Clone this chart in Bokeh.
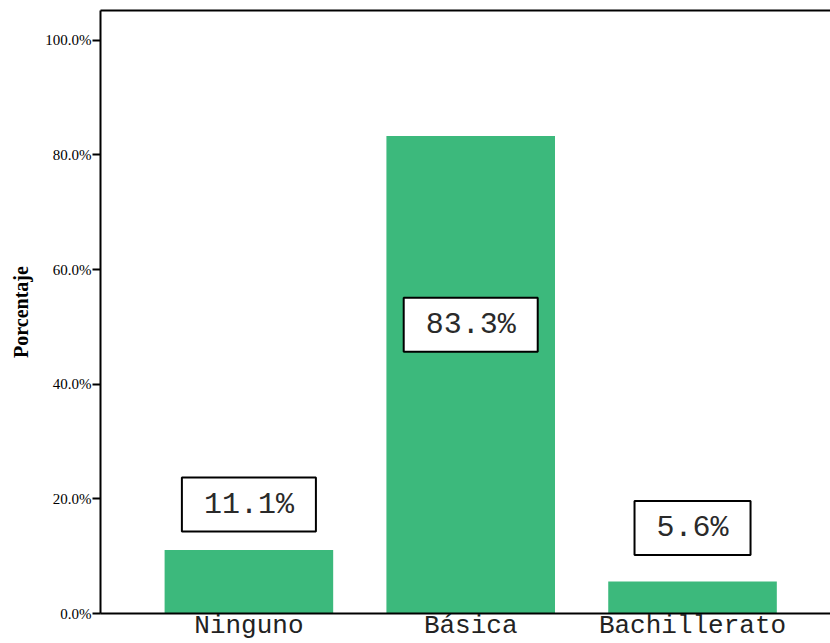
from bokeh.plotting import figure
from bokeh.models import Range1d, FixedTicker, PrintfTickFormatter, LinearAxis, ColumnDataSource
from bokeh.core.properties import value
from bokeh.embed import file_html
from bokeh.resources import INLINE

categories = ["Ninguno", "Básica", "Bachillerato"]
percentages = [11.1, 83.3, 5.6]
label_texts = ["11.1%", "83.3%", "5.6%"]
y_ticks = [0, 20, 40, 60, 80, 100]

xs = [i + 1 for i in range(len(categories))]
# label box centres (layout)
label_y = [v + 8.0 if v < 50 else v * 0.605 for v in percentages]
label_y[0] = percentages[0] + 7.9
label_y[2] = percentages[2] + 9.3

src = ColumnDataSource(dict(x=xs, top=percentages, ly=label_y, txt=label_texts))

p = figure(width=830, height=643, output_backend="svg", toolbar_location=None,
           x_range=Range1d(0.331, 3.622), y_range=Range1d(0, 105.2),
           min_border_left=100, min_border_right=0, min_border_top=10, min_border_bottom=30)
p.outline_line_color = None
p.xgrid.visible = False
p.ygrid.visible = False

p.vbar(x="x", top="top", width=0.76, source=src, fill_color="#3cb97c", line_color=None)

p.text(x="x", y="ly", text="txt", source=src, text_align="center", text_baseline="middle",
       text_font=value("Liberation Mono"), text_font_size="30px", text_color="#2a2a2a",
       background_fill_color="white", border_line_color="black", border_line_width=2,
       padding=(22, 10))

# y axis
ya = p.yaxis[0]
ya.ticker = FixedTicker(ticks=y_ticks)
ya.formatter = PrintfTickFormatter(format="%.1f%%")
ya.major_label_text_font = "Liberation Serif"
ya.major_label_text_font_size = "15px"
ya.major_label_text_color = "black"
ya.major_label_standoff = 1
ya.major_tick_in = 0
ya.major_tick_out = 8
ya.major_tick_line_width = 2
ya.minor_tick_line_color = None
ya.axis_line_width = 2
ya.axis_label = "Porcentaje"
ya.axis_label_text_font = "Liberation Serif"
ya.axis_label_text_font_style = "bold"
ya.axis_label_text_font_size = "20px"
ya.axis_label_text_color = "black"
ya.axis_label_standoff = 10

# x axis
xa = p.xaxis[0]
xa.ticker = FixedTicker(ticks=xs)
xa.major_label_overrides = {x: c for x, c in zip(xs, categories)}
xa.major_label_text_font = "Liberation Mono"
xa.major_label_text_font_size = "26px"
xa.major_label_text_color = "#222222"
xa.major_label_standoff = -3
xa.major_tick_in = 0
xa.major_tick_out = 0
xa.minor_tick_line_color = None
xa.axis_line_width = 2

# top border line
top = LinearAxis(major_tick_line_color=None, minor_tick_line_color=None,
                 major_label_text_font_size="0px", axis_line_width=2)
top.ticker = FixedTicker(ticks=[])
p.add_layout(top, "above")

open("out.html", "w").write(file_html(p, INLINE))
